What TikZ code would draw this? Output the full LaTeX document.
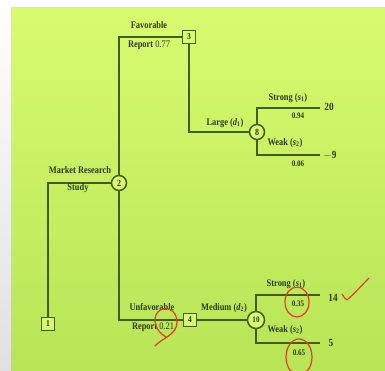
\documentclass[tikz,border=0pt]{standalone}
\usepackage{fontspec}
\setmainfont{Liberation Serif}[FakeStretch=0.84]
\definecolor{bgtop}{RGB}{216,251,112}
\definecolor{bgbot}{RGB}{184,228,86}
\definecolor{lncol}{RGB}{64,94,22}
\definecolor{txcol}{RGB}{44,60,16}
\definecolor{pencol}{RGB}{225,60,30}
\begin{document}
\begin{tikzpicture}[x=1pt,y=-1pt,
  conn/.style={draw=lncol, line width=1.7pt},
  decbox/.style={draw=lncol, line width=1.5pt, fill=bgtop, minimum size=13pt, inner sep=0pt, font=\bfseries\fontsize{9}{9}\selectfont, text=txcol},
  chance/.style={circle, draw=lncol, line width=1.5pt, fill=bgtop, minimum size=15pt, inner sep=0pt, font=\bfseries\fontsize{9.5}{9.5}\selectfont, text=txcol},
  lbl/.style={font=\bfseries\fontsize{10}{10}\selectfont, text=txcol, inner sep=1pt},
  small/.style={font=\bfseries\fontsize{8.5}{8.5}\selectfont, text=txcol, inner sep=1pt},
  payoff/.style={font=\bfseries\fontsize{11}{11}\selectfont, text=txcol, inner sep=1pt},
  pen/.style={draw=pencol, line width=1.2pt, line cap=round, line join=round}
]
\useasboundingbox (0,0) rectangle (385,371);
\fill[white] (0,0) rectangle (385,371);
\shade[top color=white, bottom color=black!12] (0,0) rectangle (11,371);
\shade[top color=bgtop, bottom color=bgbot] (11,8) rectangle (385,371);

% nodes
\node[decbox] (n1) at (48,324) {1};
\node[chance] (n2) at (119,183) {2};
\node[decbox] (n3) at (189,37) {3};
\node[chance] (n8) at (257,132) {8};
\node[decbox] (n4) at (190,320) {4};
\node[chance, minimum size=17pt, font=\bfseries\fontsize{8.5}{8.5}\selectfont] (n10) at (256,320) {10};

\coordinate (e1) at (320,108);
\coordinate (e2) at (320,155);
\coordinate (e3) at (320,295);
\coordinate (e4) at (320,343);

% connectors
\draw[conn] (n1.north) |- (n2.west);
\draw[conn] (n2.north) |- (n3.west);
\draw[conn] (n2.south) |- (n4.west);
\draw[conn] (n3.south) |- (n8.west);
\draw[conn] (n4.east) -- (n10.west);
\draw[conn] (n8.north) |- (e1);
\draw[conn] (n8.south) |- (e2);
\draw[conn] (n10.north) |- (e3);
\draw[conn] (n10.south) |- (e4);

% labels
\node[lbl] (t1) at (80,170) {Market Research};
\node[lbl] (t2) at (78,188) {Study};
\node[lbl] (t3) at (149,25) {Favorable};
\node[lbl] (t4) at (149,45) {Report \mdseries 0.77};
\node[lbl] (t5) at (225,123) {Large (\textit{d}\textsubscript{1})};
\node[lbl] (t6) at (288,98) {Strong (\textit{s}\textsubscript{1})};
\node[small] (t7) at (298,116) {0.94};
\node[lbl] (t8) at (285,143) {Weak (\textit{s}\textsubscript{2})};
\node[small] (t9) at (298,164) {0.06};
\node[payoff] (v1) at (329,107) {20};
\node[payoff] (v2) at (330,155) {$-$9};

\node[lbl] (t10) at (152,307) {Unfavorable};
\node[lbl] (t11) at (153,327) {Report \mdseries 0.21};
\node[lbl] (t12) at (224,308) {Medium (\textit{d}\textsubscript{2})};
\node[lbl] (t13) at (286,284) {Strong (\textit{s}\textsubscript{1})};
\node[small] (t14) at (298,304) {0.35};
\node[lbl] (t15) at (285,330) {Weak (\textit{s}\textsubscript{2})};
\node[small] (t16) at (299,353) {0.65};
\node[payoff] (v3) at (333,298) {14};
\node[payoff] (v4) at (331,343) {5};

% red pen annotations
\draw[pen] (155,346) .. controls (162,338) and (177,335) .. (177,322)
  .. controls (177,309) and (164,305) .. (158,312)
  .. controls (152,318) and (155,331) .. (166,337);
\draw[pen] (297,302) ellipse [x radius=12, y radius=15];
\draw[pen] (299,357) ellipse [x radius=13, y radius=18];
\draw[pen] (342,294) .. controls (344,297) and (345,299) .. (347,300)
  .. controls (354,294) and (362,285) .. (369,278);
\end{tikzpicture}
\end{document}
